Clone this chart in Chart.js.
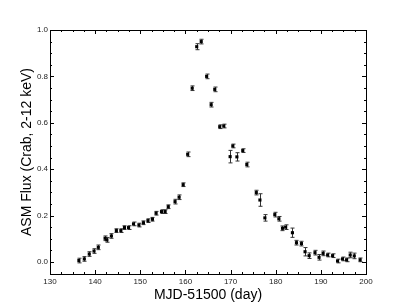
<!DOCTYPE html>
<html>
<head>
<meta charset="utf-8">
<script src="https://cdn.jsdelivr.net/npm/chart.js@4"></script>
<style>
  html, body { margin: 0; padding: 0; background: #fff; }
  #wrap { width: 407px; height: 305px; }
</style>
</head>
<body>
<div id="wrap"><canvas id="lc"></canvas></div>
<script>
// light curve
const days = [136.4, 137.6, 138.7, 139.75, 140.7, 142.2, 142.6, 143.6, 144.7, 145.7,
  146.5, 147.4, 148.5, 149.7, 150.7, 151.7, 152.7, 153.5, 154.7, 155.5,
  156.2, 157.7, 158.6, 159.5, 160.5, 161.5, 162.5, 163.5, 164.7, 165.7,
  166.5, 167.6, 168.5, 169.9, 170.5, 171.4, 172.7, 173.6, 175.7, 176.5,
  177.6, 179.8, 180.7, 181.5, 182.2, 183.7, 184.6, 185.7, 186.5, 187.4,
  188.7, 189.6, 190.5, 191.5, 192.6, 193.7, 194.8, 195.7, 196.5, 197.4, 198.7];
const flux = [0.006, 0.013, 0.034, 0.047, 0.063, 0.102, 0.095, 0.112, 0.135, 0.135,
  0.148, 0.148, 0.164, 0.159, 0.169, 0.178, 0.184, 0.21, 0.217, 0.217,
  0.238, 0.26, 0.279, 0.333, 0.464, 0.749, 0.928, 0.95, 0.80, 0.678,
  0.744, 0.583, 0.586, 0.454, 0.50, 0.453, 0.48, 0.42, 0.299, 0.267,
  0.19, 0.204, 0.186, 0.145, 0.15, 0.126, 0.083, 0.079, 0.044, 0.027,
  0.04, 0.02, 0.037, 0.03, 0.027, 0.004, 0.013, 0.009, 0.03, 0.026, 0.009];
const fluxErr = [0.01, 0.01, 0.01, 0.01, 0.01, 0.01, 0.01, 0.01, 0.008, 0.008,
  0.008, 0.008, 0.008, 0.008, 0.008, 0.008, 0.008, 0.008, 0.008, 0.008,
  0.008, 0.01, 0.01, 0.008, 0.01, 0.01, 0.013, 0.01, 0.01, 0.01,
  0.01, 0.008, 0.008, 0.027, 0.008, 0.018, 0.008, 0.01, 0.01, 0.027,
  0.014, 0.01, 0.01, 0.01, 0.01, 0.02, 0.01, 0.01, 0.018, 0.012,
  0.01, 0.012, 0.01, 0.008, 0.008, 0.008, 0.008, 0.008, 0.012, 0.012, 0.008];

const xMajor = [130, 140, 150, 160, 170, 180, 190, 200];
const yMajor = [0.0, 0.2, 0.4, 0.6, 0.8, 1.0];
const xMinorStep = 2.5, yMinorStep = 0.05;

const FONT = "'Liberation Sans', Arial, sans-serif";

// error bars, frame and inward ticks on all four sides
const framePlugin = {
  id: 'frame',
  beforeDatasetsDraw(chart) {
    const { ctx, scales: { x, y } } = chart;
    ctx.save();
    ctx.strokeStyle = '#333';
    ctx.lineWidth = 1;
    days.forEach((d, i) => {
      const px = Math.round(x.getPixelForValue(d)) + 0.5;
      const top = y.getPixelForValue(flux[i] + fluxErr[i]);
      const bot = y.getPixelForValue(flux[i] - fluxErr[i]);
      ctx.beginPath();
      ctx.moveTo(px, top); ctx.lineTo(px, bot);
      ctx.moveTo(px - 2, top); ctx.lineTo(px + 2, top);
      ctx.moveTo(px - 2, bot); ctx.lineTo(px + 2, bot);
      ctx.stroke();
    });
    ctx.restore();
  },
  afterDraw(chart) {
    const { ctx, chartArea: a, scales: { x, y } } = chart;
    ctx.save();
    ctx.strokeStyle = '#000';
    ctx.lineWidth = 1;
    ctx.strokeRect(a.left + 0.5, a.top + 0.5, a.right - a.left, a.bottom - a.top);
    ctx.beginPath();
    for (let v = x.min; v <= x.max + 1e-6; v += xMinorStep) {
      const len = xMajor.includes(Math.round(v * 10) / 10) ? 4 : 2;
      const px = Math.round(x.getPixelForValue(v)) + 0.5;
      ctx.moveTo(px, a.bottom); ctx.lineTo(px, a.bottom - len);
      ctx.moveTo(px, a.top); ctx.lineTo(px, a.top + len);
    }
    for (let v = 0; v <= y.max + 1e-6; v += yMinorStep) {
      const major = yMajor.some(t => Math.abs(t - v) < 1e-6);
      const len = major ? 4 : 2;
      const py = Math.round(y.getPixelForValue(v)) + 0.5;
      ctx.moveTo(a.left, py); ctx.lineTo(a.left + len, py);
      ctx.moveTo(a.right, py); ctx.lineTo(a.right - len, py);
    }
    ctx.stroke();
    ctx.restore();
  }
};

new Chart(document.getElementById('lc'), {
  type: 'scatter',
  data: {
    datasets: [{
      data: days.map((d, i) => ({ x: d, y: flux[i] })),
      pointStyle: 'rect',
      pointRadius: 2.2,
      borderWidth: 0,
      backgroundColor: '#000',
      showLine: false
    }]
  },
  options: {
    responsive: true,
    maintainAspectRatio: false,
    animation: false,
    events: [],
    layout: { padding: { top: 30, right: 41, bottom: 0, left: 0 } },
    plugins: { legend: { display: false }, tooltip: { enabled: false } },
    scales: {
      x: {
        type: 'linear', min: 130, max: 200,
        grid: { display: false, drawTicks: false },
        border: { display: false },
        afterBuildTicks: s => { s.ticks = xMajor.map(v => ({ value: v })); },
        afterFit: s => { s.height = 31; },
        ticks: { padding: 3, color: '#222', font: { family: FONT, size: 8 }, maxRotation: 0 },
        title: { display: true, text: 'MJD-51500 (day)', color: '#000',
                 font: { family: FONT, size: 14 }, padding: { top: 0, bottom: 1 } }
      },
      y: {
        type: 'linear', min: -0.052, max: 1.0,
        grid: { display: false, drawTicks: false },
        border: { display: false },
        afterBuildTicks: s => { s.ticks = yMajor.map(v => ({ value: v })); },
        afterFit: s => { s.width = 50; },
        ticks: { padding: 2, color: '#222', font: { family: FONT, size: 8 },
                 callback: v => v.toFixed(1) },
        title: { display: true, text: 'ASM Flux (Crab, 2-12 keV)', color: '#000',
                 font: { family: FONT, size: 14 }, padding: { top: 19, bottom: 0 } }
      }
    }
  },
  plugins: [framePlugin]
});
</script>
</body>
</html>
